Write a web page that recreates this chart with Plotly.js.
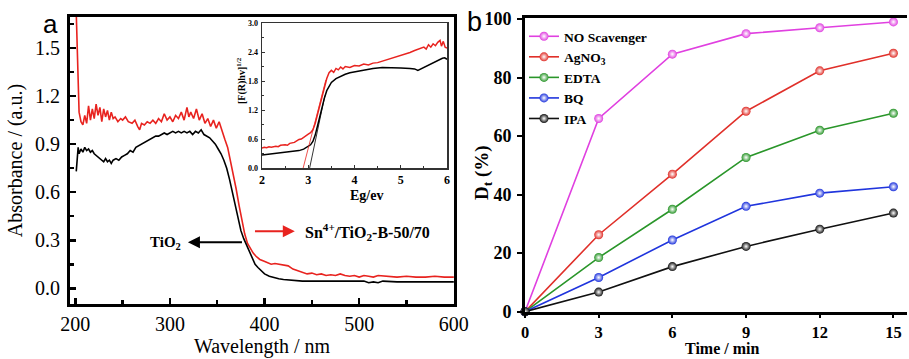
<!DOCTYPE html>
<html><head><meta charset="utf-8">
<script src="https://cdn.plot.ly/plotly-3.0.1.min.js"></script>
<style>html,body{margin:0;padding:0;background:#fff;}#chart{width:909px;height:359px;}</style>
</head><body><div id="chart"></div>
<script>
// ---- Panel a: UV-vis absorbance ----
const wlTiO2 = [201,202,203,204,206,208,210,212,214,216,218,220,222,224,226,228,230,232,234,236,238,240,243,246,249,252,255,258,261,264,267,270,273,276,279,282,285,288,291,294,297,300,303,306,309,312,315,318,321,324,327,330,333,336,339,342,345,348,351,354,357,360,363,366,369,372,375,378,381,384,387,390,393,396,400,405,410,415,420,430,440,450,470,490,505,510,515,520,525,540,560,580,600];
const absTiO2 = [0.73,0.80,0.88,0.84,0.87,0.85,0.88,0.86,0.87,0.85,0.86,0.84,0.83,0.82,0.81,0.80,0.79,0.81,0.79,0.80,0.78,0.80,0.81,0.80,0.82,0.83,0.84,0.86,0.85,0.88,0.89,0.90,0.91,0.92,0.93,0.94,0.95,0.95,0.96,0.97,0.96,0.97,0.98,0.97,0.98,0.97,0.98,0.97,0.98,0.96,0.98,0.97,0.99,0.96,0.95,0.94,0.92,0.90,0.87,0.84,0.80,0.75,0.68,0.60,0.51,0.43,0.36,0.31,0.27,0.22,0.18,0.15,0.13,0.11,0.09,0.075,0.065,0.06,0.055,0.05,0.045,0.045,0.045,0.045,0.045,0.035,0.04,0.035,0.045,0.04,0.04,0.04,0.04];
const wlSn = [201,202,203,204,206,208,210,212,214,216,218,220,222,224,226,228,230,232,234,236,238,240,242,245,248,250,253,256,260,263,266,268,270,273,276,279,282,285,288,291,294,297,300,303,306,309,312,315,318,320,322,325,328,331,334,337,340,343,346,349,352,355,358,361,364,367,370,373,376,379,382,385,388,391,395,399,403,407,411,415,420,425,430,435,440,445,450,455,460,465,470,475,480,485,490,495,500,505,510,515,520,530,540,550,560,570,580,590,600];
const absSn = [1.72,1.45,1.20,1.10,1.04,1.02,1.08,1.03,1.14,1.05,1.12,1.06,1.15,1.08,1.13,1.04,1.12,1.07,1.11,1.05,1.10,1.06,1.07,1.04,1.06,1.05,1.07,1.04,1.03,1.05,1.01,0.99,1.03,1.02,1.04,1.03,1.05,1.03,1.06,1.04,1.09,1.05,1.07,1.04,1.08,1.06,1.10,1.05,1.13,1.07,1.10,1.06,1.12,1.05,1.09,1.03,1.06,1.01,1.05,1.00,1.04,0.98,0.93,0.88,0.80,0.71,0.62,0.52,0.43,0.34,0.28,0.25,0.22,0.20,0.18,0.17,0.16,0.15,0.155,0.15,0.145,0.14,0.12,0.11,0.10,0.09,0.095,0.085,0.09,0.08,0.085,0.08,0.09,0.08,0.075,0.08,0.07,0.08,0.075,0.07,0.08,0.075,0.07,0.075,0.07,0.07,0.075,0.07,0.07];

// ---- Inset: Tauc plot ----
const egTiO2 = [2.0,2.1,2.2,2.3,2.4,2.5,2.6,2.7,2.8,2.9,3.0,3.05,3.1,3.15,3.2,3.25,3.3,3.35,3.4,3.45,3.5,3.6,3.7,3.8,3.9,4.0,4.2,4.4,4.6,4.8,5.0,5.2,5.3,5.37,5.45,5.6,5.7,5.8,5.9,5.95,6.0];
const frTiO2 = [0.27,0.28,0.29,0.30,0.31,0.32,0.33,0.34,0.36,0.39,0.44,0.48,0.55,0.68,0.87,1.07,1.27,1.45,1.60,1.70,1.77,1.85,1.90,1.94,1.97,1.99,2.03,2.06,2.08,2.08,2.07,2.06,2.05,2.02,2.06,2.12,2.17,2.22,2.27,2.28,2.25];
const egSn = [2.0,2.05,2.1,2.15,2.2,2.3,2.35,2.4,2.5,2.55,2.6,2.7,2.75,2.8,2.85,2.9,2.95,3.0,3.05,3.1,3.15,3.2,3.25,3.3,3.35,3.4,3.45,3.5,3.55,3.6,3.65,3.7,3.75,3.8,3.9,4.0,4.1,4.2,4.3,4.4,4.5,4.6,4.7,4.8,4.9,5.0,5.1,5.2,5.3,5.4,5.5,5.55,5.6,5.65,5.7,5.75,5.8,5.85,5.88,5.92,5.96,6.0];
const frSn = [0.41,0.43,0.42,0.44,0.43,0.45,0.44,0.47,0.48,0.47,0.51,0.53,0.56,0.59,0.60,0.64,0.66,0.70,0.73,0.79,0.92,1.10,1.31,1.52,1.70,1.85,1.97,2.02,1.98,2.06,2.03,2.09,2.05,2.10,2.08,2.12,2.11,2.15,2.13,2.17,2.18,2.21,2.24,2.26,2.30,2.32,2.35,2.39,2.43,2.47,2.50,2.46,2.55,2.50,2.57,2.53,2.60,2.64,2.52,2.62,2.50,2.48];
const tangentTiO2X = [3.03,3.36], tangentTiO2Y = [0,1.50];
const tangentSnX = [2.89,3.38], tangentSnY = [0,1.82];

// ---- Panel b: scavenger experiment ----
const timeMin = [0,3,6,9,12,15];
const noScavenger = [0,66,88,95,97,99];
const agNO3 = [0,26.3,47,68.5,82.3,88.3];
const edta = [0,18.5,35,52.7,62,67.8];
const bq = [0,11.7,24.5,36,40.5,42.7];
const ipa = [0,6.7,15.4,22.3,28.2,33.7];
const seriesNames = ['NO Scavenger','AgNO<sub>3</sub>','EDTA','BQ','IPA'];
const seriesValues = [noScavenger, agNO3, edta, bq, ipa];
const seriesColors = ['#e040e0','#e0302a','#2a962a','#2035dd','#111111'];

const SERIF = 'Liberation Serif';
const SANS = 'Liberation Sans';
const W = 909, H = 359;
const px = v => v / W, py = v => 1 - v / H;

const traces = [
  {x: wlSn, y: absSn, xaxis:'x', yaxis:'y', mode:'lines', line:{color:'#e8231f', width:1.6}, showlegend:false},
  {x: wlTiO2, y: absTiO2, xaxis:'x', yaxis:'y', mode:'lines', line:{color:'#000', width:1.6}, showlegend:false},
  {x: egSn, y: frSn, xaxis:'x3', yaxis:'y3', mode:'lines', line:{color:'#e8231f', width:1.5}, showlegend:false},
  {x: egTiO2, y: frTiO2, xaxis:'x3', yaxis:'y3', mode:'lines', line:{color:'#000', width:1.5}, showlegend:false},
  {x: tangentSnX, y: tangentSnY, xaxis:'x3', yaxis:'y3', mode:'lines', line:{color:'#e8231f', width:0.8}, showlegend:false},
  {x: tangentTiO2X, y: tangentTiO2Y, xaxis:'x3', yaxis:'y3', mode:'lines', line:{color:'#000', width:0.8}, showlegend:false}
];
seriesNames.forEach((n, i) => {
  traces.push({x: timeMin, y: seriesValues[i], xaxis:'x2', yaxis:'y2', name:n, mode:'lines+markers',
    line:{color:seriesColors[i], width:1.6},
    marker:{color:seriesColors[i], size:9, gradient:{type:'radial', color:'#ffffff'}, line:{width:0}},
    cliponaxis:false});
});

const axBase = {showgrid:false, zeroline:false, showline:true, linecolor:'#000', mirror:true, automargin:false};
const layout = {
  width: W, height: H, margin:{l:0,r:0,t:0,b:0},
  paper_bgcolor:'#fff', plot_bgcolor:'rgba(0,0,0,0)',
  font:{family:SERIF, color:'#000'},
  showlegend:true,
  legend:{x:px(524), y:py(21), xanchor:'left', yanchor:'top', bgcolor:'rgba(0,0,0,0)',
    font:{family:SERIF, size:13.5, color:'#000', weight:'bold'}, itemwidth:30, tracegroupgap:0},
  xaxis: Object.assign({}, axBase, {domain:[px(70), px(454)], range:[194.4,600.2], anchor:'y',
    tick0:200, dtick:100, ticks:'inside', ticklen:6, tickwidth:2.5, tickcolor:'#000',
    minor:{dtick:50, ticks:'inside', ticklen:4, tickwidth:2.5, tickcolor:'#000'},
    linewidth:3, tickfont:{family:SERIF, size:20, color:'#000'}, ticklabelstandoff:0,
    title:{text:'Wavelength / nm', font:{family:SERIF, size:20, color:'#000'}, standoff:2}}),
  yaxis: Object.assign({}, axBase, {domain:[py(304), py(17)], range:[-0.098,1.694], anchor:'x',
    tick0:0, dtick:0.3, tickformat:'.1f', ticks:'inside', ticklen:6, tickwidth:2.5, tickcolor:'#000',
    minor:{dtick:0.15, ticks:'inside', ticklen:4, tickwidth:2.5, tickcolor:'#000'},
    linewidth:3, tickfont:{family:SERIF, size:20, color:'#000'}, ticklabelstandoff:3,
    title:{text:'Absorbance / (a.u.)', font:{family:SERIF, size:20, color:'#000'}, standoff:8}}),
  xaxis2: Object.assign({}, axBase, {domain:[px(525), px(906.7)], range:[0,15.54], anchor:'y2',
    tick0:0, dtick:3, ticks:'outside', ticklen:3, tickwidth:2, tickcolor:'#000', linewidth:3,
    tickfont:{family:SERIF, size:16.5, color:'#000', weight:'bold'}, ticklabelstandoff:0}),
  yaxis2: Object.assign({}, axBase, {domain:[py(311.7), py(18.3)], range:[0,100.24], anchor:'x2', mirror:false,
    tick0:0, dtick:20, ticks:'outside', ticklen:5, tickwidth:2, tickcolor:'#000', linewidth:3,
    tickfont:{family:SERIF, size:18, color:'#000', weight:'bold'}, ticklabelstandoff:2}),
  xaxis3: Object.assign({}, axBase, {domain:[px(262), px(447)], range:[2,6], anchor:'y3',
    tick0:2, dtick:1, ticks:'inside', ticklen:3, tickwidth:1, tickcolor:'#333', linewidth:1.5, linecolor:'#333',
    minor:{dtick:0.5, ticks:'inside', ticklen:2, tickwidth:1, tickcolor:'#333'},
    tickfont:{family:SERIF, size:12, color:'#000', weight:'bold'}, ticklabelstandoff:0}),
  yaxis3: Object.assign({}, axBase, {domain:[py(168), py(23)], range:[0,3], anchor:'x3',
    tick0:0, dtick:0.6, tickformat:'.1f', ticks:'inside', ticklen:3, tickwidth:1, tickcolor:'#333', linewidth:1.5, linecolor:'#333',
    minor:{dtick:0.3, ticks:'inside', ticklen:2, tickwidth:1, tickcolor:'#333'},
    tickfont:{family:SERIF, size:8, color:'#000', weight:'bold'}, ticklabelstandoff:1}),
  annotations:[
    {text:'a', xref:'paper', yref:'paper', x:px(50), y:py(24), xanchor:'center', yanchor:'middle', showarrow:false,
      font:{family:SANS, size:26, color:'#000'}},
    {text:'b', xref:'paper', yref:'paper', x:px(475), y:py(22), xanchor:'center', yanchor:'middle', showarrow:false,
      font:{family:SANS, size:27, color:'#000'}},
    {text:'<b>Time / min</b>', xref:'paper', yref:'paper', x:px(722), y:0, xanchor:'center', yanchor:'bottom', showarrow:false,
      font:{family:SERIF, size:16, color:'#000'}},
    {text:'<b>D<sub>t</sub> (%)</b>', xref:'paper', yref:'paper', x:px(483), y:py(173), xanchor:'center', yanchor:'middle', showarrow:false,
      textangle:-90, font:{family:SERIF, size:19, color:'#000'}},
    {text:' ', xref:'x', yref:'y', x:319, y:0.2875, axref:'x', ayref:'y', ax:379.3, ay:0.2875,
      showarrow:true, arrowhead:2, arrowsize:1.2, arrowwidth:2, arrowcolor:'#000'},
    {text:' ', xref:'x', yref:'y', x:432, y:0.356, axref:'x', ayref:'y', ax:386.7, ay:0.356,
      showarrow:true, arrowhead:2, arrowsize:1.2, arrowwidth:2, arrowcolor:'#e8231f'},
    {text:'<b>TiO<sub>2</sub></b>', xref:'x', yref:'y', x:314, y:0.28, xanchor:'right', yanchor:'middle', showarrow:false,
      font:{family:SERIF, size:15, color:'#000'}},
    {text:'<b>Sn<sup>4+</sup>/TiO<sub>2</sub>-B-50/70</b>', xref:'x', yref:'y', x:440.6, y:0.35, xanchor:'left', yanchor:'middle', showarrow:false,
      font:{family:SERIF, size:16, color:'#000'}},
    {text:'<b>Eg/ev</b>', xref:'paper', yref:'paper', x:px(366), y:py(195), xanchor:'center', yanchor:'middle', showarrow:false,
      font:{family:SERIF, size:14, color:'#000'}},
    {text:'<b>[F(R)hv]<sup>1/2</sup></b>', xref:'paper', yref:'paper', x:px(242), y:py(80), xanchor:'center', yanchor:'middle', showarrow:false,
      textangle:-90, font:{family:SERIF, size:10, color:'#000'}}
  ]
};
Plotly.newPlot('chart', traces, layout, {staticPlot:true, displayModeBar:false});
</script>
</body></html>
